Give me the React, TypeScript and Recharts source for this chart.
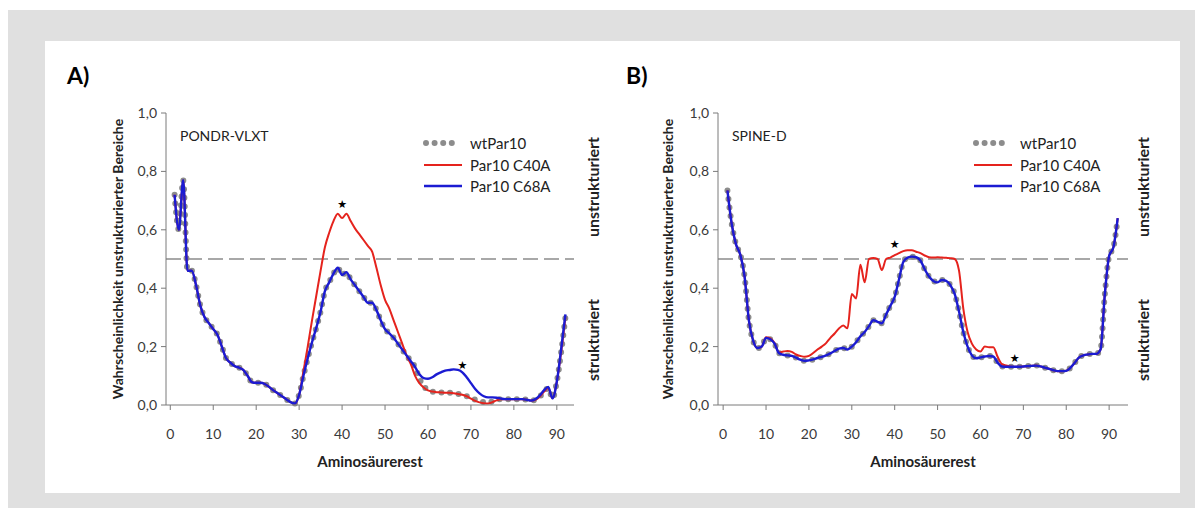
import React from "react";
import { LineChart, Line, XAxis, YAxis, ReferenceLine, ReferenceDot } from "recharts";

const FONT = "Lato, 'Open Sans', sans-serif";

// residue numbers 1..92 (x categories)
const residues = [
  1, 2, 3, 4, 5, 6, 7, 8, 9, 10, 11, 12, 13, 14, 15, 16, 17, 18, 19, 20,
  21, 22, 23, 24, 25, 26, 27, 28, 29, 30, 31, 32, 33, 34, 35, 36, 37, 38, 39, 40,
  41, 42, 43, 44, 45, 46, 47, 48, 49, 50, 51, 52, 53, 54, 55, 56, 57, 58, 59, 60,
  61, 62, 63, 64, 65, 66, 67, 68, 69, 70, 71, 72, 73, 74, 75, 76, 77, 78, 79, 80,
  81, 82, 83, 84, 85, 86, 87, 88, 89, 90, 91, 92,
];

const xTicks = [0, 10, 20, 30, 40, 50, 60, 70, 80, 90];
const yTicks = [0, 0.2, 0.4, 0.6, 0.8, 1.0];

// A) PONDR-VLXT
const vlxtWt = [
  0.72, 0.6, 0.77, 0.46, 0.46, 0.41, 0.34, 0.3, 0.28, 0.26,
  0.24, 0.2, 0.16, 0.145, 0.133, 0.128, 0.12, 0.1, 0.078, 0.076,
  0.076, 0.072, 0.062, 0.05, 0.04, 0.03, 0.02, 0.01, 0.005, 0.035,
  0.1, 0.16, 0.215, 0.265, 0.32, 0.39, 0.42, 0.45, 0.47, 0.445,
  0.455, 0.43, 0.41, 0.39, 0.37, 0.35, 0.35, 0.325, 0.29, 0.26,
  0.245, 0.23, 0.21, 0.19, 0.17, 0.15, 0.13, 0.09, 0.065, 0.05,
  0.046, 0.044, 0.043, 0.042, 0.042, 0.04, 0.038, 0.035, 0.03, 0.025,
  0.018, 0.013, 0.01, 0.008, 0.012, 0.018, 0.02, 0.02, 0.02, 0.02,
  0.02, 0.02, 0.018, 0.015, 0.018, 0.028, 0.045, 0.058, 0.023, 0.08,
  0.18, 0.3,
];
const vlxtC40A = [
  0.72, 0.6, 0.77, 0.46, 0.46, 0.41, 0.34, 0.3, 0.28, 0.26,
  0.24, 0.2, 0.16, 0.145, 0.133, 0.128, 0.12, 0.1, 0.078, 0.076,
  0.076, 0.072, 0.062, 0.05, 0.04, 0.03, 0.02, 0.01, 0.005, 0.035,
  0.115, 0.2, 0.29, 0.375, 0.46, 0.54, 0.59, 0.63, 0.655, 0.64,
  0.655, 0.63, 0.605, 0.585, 0.565, 0.545, 0.525, 0.47, 0.41, 0.36,
  0.33, 0.29, 0.25, 0.21, 0.17, 0.14, 0.1, 0.075, 0.06, 0.05,
  0.046, 0.044, 0.043, 0.042, 0.042, 0.04, 0.038, 0.035, 0.03, 0.022,
  0.014, 0.009, 0.006, 0.005, 0.01, 0.016, 0.02, 0.02, 0.02, 0.02,
  0.02, 0.02, 0.018, 0.015, 0.018, 0.028, 0.045, 0.058, 0.023, 0.08,
  0.18, 0.3,
];
const vlxtC68A = [
  0.72, 0.6, 0.77, 0.46, 0.46, 0.41, 0.34, 0.3, 0.28, 0.26,
  0.24, 0.2, 0.16, 0.145, 0.133, 0.128, 0.12, 0.1, 0.078, 0.076,
  0.076, 0.072, 0.062, 0.05, 0.04, 0.03, 0.02, 0.01, 0.005, 0.035,
  0.1, 0.16, 0.215, 0.265, 0.32, 0.39, 0.42, 0.45, 0.47, 0.445,
  0.455, 0.43, 0.41, 0.39, 0.37, 0.35, 0.35, 0.325, 0.29, 0.26,
  0.245, 0.23, 0.21, 0.19, 0.17, 0.15, 0.13, 0.105, 0.092, 0.09,
  0.095, 0.105, 0.112, 0.118, 0.12, 0.122, 0.12, 0.112, 0.095, 0.075,
  0.055, 0.04, 0.03, 0.026, 0.026, 0.025, 0.022, 0.02, 0.02, 0.02,
  0.02, 0.02, 0.018, 0.015, 0.02, 0.032, 0.05, 0.062, 0.023, 0.08,
  0.19, 0.31,
];

// B) SPINE-D
const spineWt = [
  0.735, 0.62, 0.55, 0.515, 0.44, 0.29, 0.22, 0.195, 0.2, 0.23,
  0.225, 0.21, 0.178, 0.172, 0.17, 0.168, 0.162, 0.155, 0.151, 0.153,
  0.156, 0.161, 0.165, 0.17, 0.177, 0.185, 0.193, 0.195, 0.19, 0.2,
  0.215, 0.235, 0.25, 0.27, 0.29, 0.285, 0.28, 0.31, 0.34, 0.37,
  0.43, 0.49, 0.505, 0.508, 0.506, 0.495, 0.465, 0.44, 0.425, 0.42,
  0.428, 0.425, 0.41, 0.38, 0.32, 0.25, 0.2, 0.17, 0.16, 0.163,
  0.166, 0.168, 0.166, 0.145, 0.132, 0.131, 0.131, 0.131, 0.131, 0.132,
  0.133, 0.134, 0.135, 0.132, 0.128, 0.124, 0.119, 0.116, 0.116, 0.117,
  0.128, 0.145, 0.163, 0.17, 0.173, 0.175, 0.175, 0.19, 0.38, 0.51,
  0.54, 0.64,
];
const spineC40A = [
  0.735, 0.62, 0.55, 0.515, 0.44, 0.29, 0.22, 0.195, 0.2, 0.232,
  0.228, 0.212, 0.18, 0.183, 0.185, 0.182, 0.173, 0.168, 0.165, 0.168,
  0.178, 0.19, 0.2, 0.212, 0.23, 0.245, 0.262, 0.272, 0.263, 0.38,
  0.365, 0.48, 0.42, 0.5, 0.503, 0.5, 0.462, 0.5, 0.505, 0.513,
  0.52, 0.527, 0.53, 0.53, 0.525, 0.52, 0.512, 0.506, 0.505, 0.506,
  0.505, 0.504, 0.503, 0.5, 0.46, 0.33, 0.25, 0.21, 0.19, 0.183,
  0.2, 0.198, 0.198, 0.165, 0.14, 0.135, 0.132, 0.131, 0.131, 0.132,
  0.133, 0.134, 0.135, 0.132, 0.128, 0.124, 0.119, 0.116, 0.116, 0.117,
  0.128, 0.145, 0.163, 0.17, 0.173, 0.175, 0.175, 0.19, 0.38, 0.51,
  0.54, 0.64,
];
const spineC68A = [
  0.735, 0.62, 0.55, 0.515, 0.44, 0.29, 0.22, 0.195, 0.2, 0.23,
  0.225, 0.21, 0.178, 0.172, 0.17, 0.168, 0.162, 0.155, 0.151, 0.153,
  0.156, 0.161, 0.165, 0.17, 0.177, 0.185, 0.193, 0.195, 0.19, 0.2,
  0.215, 0.235, 0.25, 0.27, 0.29, 0.285, 0.28, 0.31, 0.34, 0.37,
  0.43, 0.49, 0.505, 0.508, 0.506, 0.495, 0.465, 0.44, 0.425, 0.42,
  0.428, 0.425, 0.41, 0.38, 0.32, 0.25, 0.2, 0.17, 0.16, 0.163,
  0.166, 0.168, 0.166, 0.145, 0.132, 0.131, 0.131, 0.131, 0.131, 0.132,
  0.133, 0.134, 0.135, 0.132, 0.128, 0.124, 0.119, 0.116, 0.116, 0.117,
  0.128, 0.145, 0.163, 0.17, 0.173, 0.175, 0.175, 0.19, 0.38, 0.51,
  0.54, 0.64,
];

// asterisks marking the mutated residues
const vlxtStars = [
  { n: 40, v: 0.685 },
  { n: 68, v: 0.135 },
];
const spineStars = [
  { n: 40, v: 0.55 },
  { n: 68, v: 0.16 },
];

const AXIS = "#7a7a7a";
const WT = "#8c8c8c";
const RED = "#e5231d";
const BLUE = "#1b1bd2";
const TEXT = "#222";

const fmt = (v: number) => v.toFixed(1).replace(".", ",");

function buildRows(wt: number[], c40a: number[], c68a: number[]) {
  return residues.map((n, i) => ({ n, wt: wt[i], c40a: c40a[i], c68a: c68a[i] }));
}

const vlxtRows = buildRows(vlxtWt, vlxtC40A, vlxtC68A);
const spineRows = buildRows(spineWt, spineC40A, spineC68A);

const Star = (p: any) => (
  <text
    x={p.cx}
    y={p.cy}
    textAnchor="middle"
    dominantBaseline="central"
    fontSize={11}
    fill="#000"
    fontFamily="DejaVu Sans"
  >
    ★
  </text>
);

function Vertical({ x, y, size, children }: any) {
  return (
    <div
      style={{
        position: "absolute",
        left: x,
        top: y,
        transform: "translate(-50%, -50%) rotate(-90deg)",
        whiteSpace: "nowrap",
        fontWeight: 700,
        fontSize: size,
        color: TEXT,
      }}
    >
      {children}
    </div>
  );
}

function Panel({ left, rows, title, stars, domainX, axisW, marginRight }: any) {
  const W = 540;
  const H = 380;
  const plotCenter = axisW + (W - axisW - marginRight) / 2;
  const legendX = 374;
  const legend = [
    { name: "wtPar10", color: WT, dotted: true, y: 43 },
    { name: "Par10 C40A", color: RED, dotted: false, y: 64.5 },
    { name: "Par10 C68A", color: BLUE, dotted: false, y: 86 },
  ];
  return (
    <div style={{ position: "absolute", left, top: 90, width: W, height: H }}>
      <LineChart
        width={W}
        height={H}
        data={rows}
        margin={{ top: 13, right: marginRight, left: 0, bottom: 0 }}
      >
        <XAxis
          type="number"
          dataKey="n"
          domain={domainX}
          ticks={xTicks}
          allowDataOverflow
          height={75}
          tickSize={5}
          tickMargin={19}
          tick={{ fill: "#3a3a3a", fontSize: 14, fontFamily: FONT }}
          axisLine={{ stroke: AXIS }}
          tickLine={{ stroke: AXIS }}
        />
        <XAxis
          xAxisId="top"
          orientation="top"
          type="number"
          dataKey="n"
          domain={domainX}
          allowDataOverflow
          height={0}
          tick={false}
          tickLine={false}
          axisLine={{ stroke: AXIS }}
        />
        <YAxis
          type="number"
          domain={[0, 1]}
          ticks={yTicks}
          width={axisW}
          tickSize={5}
          tickMargin={4}
          tickFormatter={fmt}
          tick={{ fill: "#3a3a3a", fontSize: 14, fontFamily: FONT }}
          axisLine={{ stroke: AXIS }}
          tickLine={{ stroke: AXIS }}
        />
        <YAxis
          yAxisId="right"
          orientation="right"
          domain={[0, 1]}
          width={0}
          tick={false}
          tickLine={false}
          axisLine={{ stroke: AXIS }}
        />
        <ReferenceLine y={0.5} stroke="#a8a8a8" strokeWidth={2} strokeDasharray="15 6" />
        <Line
          type="monotone"
          dataKey="wt"
          stroke={WT}
          strokeWidth={6}
          strokeDasharray="0 8.6"
          strokeLinecap="round"
          dot={false}
          activeDot={false}
          isAnimationActive={false}
        />
        <Line
          type="monotone"
          dataKey="c40a"
          stroke={RED}
          strokeWidth={2}
          dot={false}
          activeDot={false}
          isAnimationActive={false}
        />
        <Line
          type="monotone"
          dataKey="c68a"
          stroke={BLUE}
          strokeWidth={2.4}
          dot={false}
          activeDot={false}
          isAnimationActive={false}
        />
        {stars.map((s: any) => (
          <ReferenceDot key={s.n} x={s.n} y={s.v} r={0} shape={Star} ifOverflow="visible" />
        ))}
      </LineChart>

      <div style={{ position: "absolute", left: axisW + 14, top: 27, fontSize: 14, color: TEXT }}>
        {title}
      </div>

      {legend.map((l) => (
        <div key={l.name}>
          <svg style={{ position: "absolute", left: legendX - 4, top: l.y - 5 }} width={46} height={10}>
            {l.dotted ? (
              <line x1={6} x2={36} y1={5} y2={5} stroke={l.color} strokeWidth={6} strokeDasharray="0 8.6" strokeLinecap="round" />
            ) : (
              <line x1={4} x2={42} y1={5} y2={5} stroke={l.color} strokeWidth={l.color === BLUE ? 2.4 : 2} />
            )}
          </svg>
          <div
            style={{
              position: "absolute",
              left: legendX + 46,
              top: l.y,
              transform: "translateY(-50%)",
              fontSize: 15,
              color: TEXT,
              whiteSpace: "nowrap",
            }}
          >
            {l.name}
          </div>
        </div>
      ))}

      <Vertical x={67} y={159} size={14}>
        Wahrscheinlichkeit unstrukturierter Bereiche
      </Vertical>
      <div
        style={{
          position: "absolute",
          left: plotCenter,
          top: 361,
          transform: "translate(-50%, -50%)",
          fontWeight: 700,
          fontSize: 15,
          color: TEXT,
          whiteSpace: "nowrap",
        }}
      >
        Aminosäurerest
      </div>
      <Vertical x={542} y={87} size={16}>
        unstrukturiert
      </Vertical>
      <Vertical x={542} y={240} size={16}>
        strukturiert
      </Vertical>
    </div>
  );
}

export default function App() {
  return (
    <div
      style={{
        position: "relative",
        width: 1187,
        height: 498,
        marginTop: 2,
        background: "#e0e0e0",
        fontFamily: FONT,
      }}
    >
      <div style={{ position: "absolute", left: 37, top: 31, width: 1135, height: 452, background: "#fff" }} />
      <div style={{ position: "absolute", left: 59, top: 51, fontSize: 23, fontWeight: 700, color: "#000" }}>A)</div>
      <div style={{ position: "absolute", left: 618, top: 51, fontSize: 23, fontWeight: 700, color: "#000" }}>B)</div>
      <Panel
        left={42}
        rows={vlxtRows}
        title="PONDR-VLXT"
        stars={vlxtStars}
        domainX={[-1, 94]}
        axisW={116}
        marginRight={16}
      />
      <Panel
        left={592}
        rows={spineRows}
        title="SPINE-D"
        stars={spineStars}
        domainX={[-1.2, 94.4]}
        axisW={118}
        marginRight={12}
      />
    </div>
  );
}
